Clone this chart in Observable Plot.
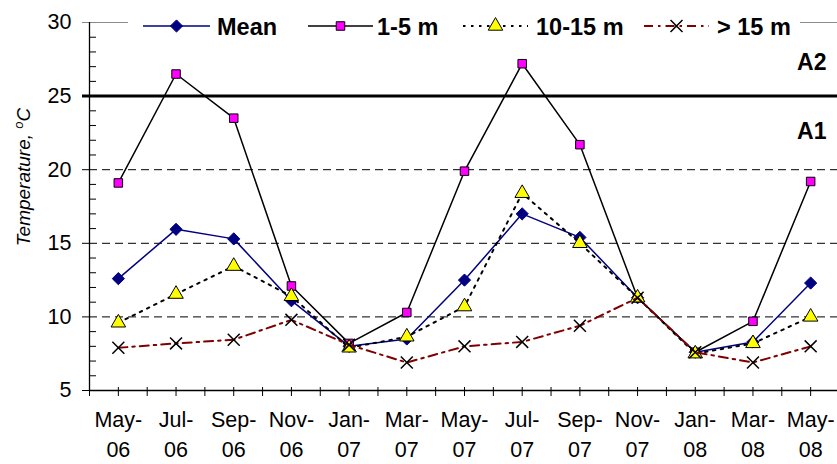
<!DOCTYPE html>
<html>
<head>
<meta charset="utf-8">
<script src="https://cdn.jsdelivr.net/npm/d3@7"></script>
<script src="https://cdn.jsdelivr.net/npm/@observablehq/plot@0.6"></script>
<style>
  html, body { margin: 0; padding: 0; background: white; }
  svg { display: block; }
</style>
</head>
<body>
<div id="chart"></div>
<script>
// ---- data ----
const labels = ["May-\n06","Jul-\n06","Sep-\n06","Nov-\n06","Jan-\n07","Mar-\n07","May-\n07","Jul-\n07","Sep-\n07","Nov-\n07","Jan-\n08","Mar-\n08","May-\n08"];
const meanVals = [12.6, 15.95, 15.3, 11.1, 8.0, 8.5, 12.5, 17.0, 15.4, 11.3, 7.6, 8.3, 12.3];
const m1to5    = [19.1, 26.5, 23.5, 12.1, 8.2, 10.3, 19.9, 27.2, 21.7, 11.3, 7.6, 9.7, 19.2];
const m10to15  = [9.6, 11.55, 13.45, 11.4, 7.9, 8.65, 10.7, 18.4, 15.0, 11.3, 7.5, 8.2, 10.0];
const mOver15  = [7.9, 8.2, 8.45, 9.8, 8.1, 6.9, 8.0, 8.3, 9.4, 11.3, 7.6, 6.9, 8.0];
const seriesNames = ["Mean", "1-5 m", "10-15 m", "> 15 m"];
const yMajor = [5, 10, 15, 20, 25, 30];
const zoneLabels = ["A2", "A1"];
const zoneY = [27.3, 22.6];
const limit = 25;

// ---- derived ----
const idx = labels.map((_, i) => i);
const halfIdx = d3.range(-0.5, 12.51, 0.5);
const yMinor = d3.range(5, 30.01, 1).filter(v => v % 5 !== 0);
const rows = vals => vals.map((v, i) => ({i, v}));

const font = "'Liberation Sans', Arial, sans-serif";

const styles = [
  {stroke: "#000080", strokeWidth: 1.5, dash: null, symbol: "diamond2", r: 5.5, fill: "#000080", mstroke: "#000080"},
  {stroke: "#000000", strokeWidth: 1.5, dash: null, symbol: "square", r: 4.8, fill: "#FF00FF", mstroke: "#000000"},
  {stroke: "#000000", strokeWidth: 2, dash: "2.5,5.5", symbol: "triangle", r: 5.4, fill: "#FFFF00", mstroke: "#000000"},
  {stroke: "#800000", strokeWidth: 2, dash: "9,5,2.5,5", symbol: "times", r: 5.5, fill: "none", mstroke: "#000000"}
];
const allSeries = [meanVals, m1to5, m10to15, mOver15];

const seriesMarks = allSeries.flatMap((vals, k) => {
  const s = styles[k];
  return [
    Plot.line(rows(vals), {x: "i", y: "v", stroke: s.stroke, strokeWidth: s.strokeWidth, strokeDasharray: s.dash}),
    Plot.dot(rows(vals), {x: "i", y: "v", symbol: s.symbol, r: s.r, fill: s.fill, stroke: s.mstroke, strokeWidth: k === 3 ? 1.5 : 1})
  ];
});

const chart = Plot.plot({
  width: 837,
  height: 464,
  marginLeft: 89,
  marginRight: 0,
  marginTop: 22,
  marginBottom: 74,
  style: {fontFamily: font, background: "white", overflow: "visible", color: "black"},
  x: {domain: [-0.5, 12.5], range: [89, 839], axis: null, label: null},
  y: {domain: [5, 30], axis: null, label: null},
  marks: [
    Plot.ruleY([30], {stroke: "#8a8a8a", strokeWidth: 1.2, insetLeft: -7}),
    Plot.ruleY([10, 15, 20], {stroke: "black", strokeDasharray: "8,5", strokeWidth: 1}),
    Plot.ruleY([limit], {stroke: "black", strokeWidth: 3, insetLeft: -7}),
    Plot.axisY(yMajor.filter(v => v !== 30), {anchor: "left", label: null, tickSize: 7, tickPadding: 11, fontSize: 21.5, tickFormat: d => d}),
    Plot.axisY([30], {anchor: "left", label: null, tickSize: 0, tickPadding: 18, fontSize: 21.5, tickFormat: d => d}),
    Plot.axisY(yMinor, {anchor: "left", label: null, tickSize: 7, dx: 7, fill: "none"}),
    Plot.axisX(halfIdx, {anchor: "bottom", label: null, tickSize: 9, dy: -3, fill: "none"}),
    Plot.ruleX([-0.5], {stroke: "black", strokeWidth: 1.3}),
    Plot.ruleY([5], {stroke: "black", strokeWidth: 1.3}),
    Plot.text(idx, {x: d => d, text: d => labels[d], frameAnchor: "bottom", lineAnchor: "top", dy: 16, fontSize: 21.5, lineHeight: 1.36}),
    ...seriesMarks,
    Plot.text(zoneLabels, {y: (d, i) => zoneY[i], text: d => d, frameAnchor: "right", textAnchor: "end", dx: -11, fontSize: 23, fontWeight: "bold"})
  ]
});

document.getElementById("chart").appendChild(chart);

// ---- legend (overlaps the plot area, as in the original) ----
const svg = d3.select(chart);
const lg = svg.append("g").attr("font-family", font).attr("text-anchor", "start");
lg.append("rect").attr("x", 128).attr("y", 9).attr("width", 672).attr("height", 34).attr("fill", "white");
const legendItems = [
  {x1: 143, x2: 210, text: 217},
  {x1: 308, x2: 373, text: 377},
  {x1: 463, x2: 528, text: 536},
  {x1: 644, x2: 709, text: 717}
];
const symMap = {diamond2: d3.symbolDiamond2, square: d3.symbolSquare, triangle: d3.symbolTriangle, times: d3.symbolTimes};
legendItems.forEach((it, k) => {
  const s = styles[k];
  const yc = 26;
  lg.append("line").attr("x1", it.x1).attr("x2", it.x2).attr("y1", yc).attr("y2", yc)
    .attr("stroke", s.stroke).attr("stroke-width", s.strokeWidth)
    .attr("stroke-dasharray", s.dash);
  const mx = (it.x1 + it.x2) / 2;
  lg.append("path").attr("d", d3.symbol(symMap[s.symbol], s.r * s.r * Math.PI)())
    .attr("transform", `translate(${mx},${yc})`)
    .attr("fill", s.fill).attr("stroke", s.mstroke).attr("stroke-width", k === 3 ? 1.5 : 1);
  lg.append("text").attr("x", it.text).attr("y", 35).attr("font-size", 23.5).attr("font-weight", "bold")
    .attr("text-anchor", "start").attr("fill", "black").text(seriesNames[k]);
});

// ---- y-axis title with superscript ----
const yt = svg.append("text").attr("font-family", font).attr("font-style", "italic").attr("font-size", 19)
  .attr("text-anchor", "middle").attr("fill", "black")
  .attr("transform", "translate(30,177) rotate(-90)");
yt.append("tspan").text("Temperature, ");
yt.append("tspan").attr("font-size", 13).attr("dy", -7).text("o");
yt.append("tspan").attr("dy", 7).text("C");
</script>
</body>
</html>
